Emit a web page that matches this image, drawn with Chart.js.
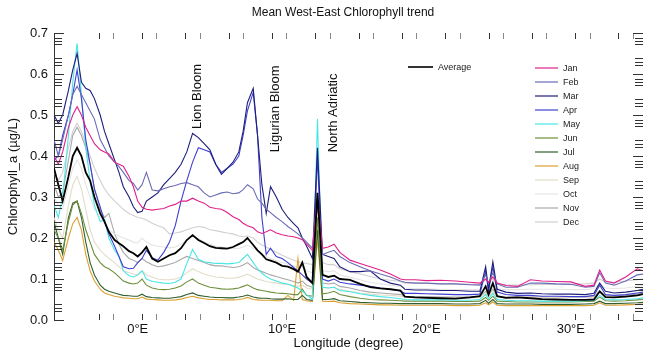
<!DOCTYPE html>
<html>
<head>
<meta charset="utf-8">
<script src="https://cdn.jsdelivr.net/npm/chart.js@4.4.1/dist/chart.umd.min.js"></script>
<style>
  body { margin: 0; background: #fff; }
  #wrap { width: 647px; height: 352px; }
</style>
</head>
<body>
<div id="wrap"><canvas id="chloroChart"></canvas></div>
<script>
// Longitude samples (degrees east)
const lon = [
  -5.8, -5.5, -5.2, -4.8, -4.5, -4.2, -3.9, -3.6, -3.3, -3, -2.6,
  -2.3, -2, -1.6, -1.3, -1, -0.6, -0.3, 0, 0.3, 0.6, 1,
  1.4, 1.8, 2.2, 2.6, 3, 3.4, 3.8, 4.2, 4.6, 5, 5.4,
  5.8, 6.2, 6.6, 7, 7.3, 7.6, 8, 8.3, 8.6, 8.9, 9.2,
  9.6, 10, 10.4, 10.8, 11.1, 11.4, 11.7, 12.1, 12.45, 12.8, 13.2,
  13.6, 14, 14.7, 15.4, 16.1, 16.8, 17.5, 18.2, 18.5, 19.2, 20,
  21, 22, 23, 23.7, 24.1, 24.3, 24.6, 24.9, 25.5, 26.3, 27.2,
  28, 29, 30, 31, 31.6, 32, 32.4, 33, 33.8, 34.6, 35
];

// Chlorophyll_a (ug/L) per series
const average = [
  0.37, 0.33, 0.29, 0.35, 0.40, 0.42, 0.40, 0.36, 0.34, 0.30, 0.26,
  0.24, 0.215, 0.195, 0.187, 0.18, 0.168, 0.163, 0.155, 0.165, 0.178, 0.15,
  0.142, 0.15, 0.158, 0.163, 0.175, 0.195, 0.207, 0.195, 0.188, 0.18, 0.176,
  0.175, 0.174, 0.178, 0.185, 0.19, 0.2, 0.183, 0.17, 0.16, 0.148, 0.145,
  0.14, 0.132, 0.13, 0.124, 0.118, 0.14, 0.105, 0.09, 0.31, 0.11, 0.105,
  0.108, 0.1, 0.098, 0.088, 0.08, 0.077, 0.075, 0.072, 0.057, 0.055, 0.054,
  0.053, 0.052, 0.055, 0.058, 0.082, 0.062, 0.09, 0.058, 0.054, 0.055, 0.053,
  0.051, 0.05, 0.049, 0.049, 0.05, 0.07, 0.056, 0.055, 0.057, 0.06, 0.063
];
const jan = [
  0.40, 0.38, 0.41, 0.47, 0.50, 0.52, 0.50, 0.47, 0.45, 0.43, 0.415,
  0.41, 0.405, 0.385, 0.38, 0.375, 0.35, 0.325, 0.29, 0.275, 0.27, 0.268,
  0.27, 0.272, 0.278, 0.282, 0.29, 0.29, 0.297, 0.29, 0.285, 0.275, 0.272,
  0.27, 0.262, 0.252, 0.245, 0.236, 0.23, 0.225, 0.215, 0.211, 0.215, 0.22,
  0.212, 0.208, 0.205, 0.203, 0.2, 0.196, 0.185, 0.17, 0.30, 0.175, 0.178,
  0.185, 0.165, 0.146, 0.138, 0.13, 0.122, 0.112, 0.1, 0.098, 0.098, 0.096,
  0.097, 0.095, 0.092, 0.09, 0.1, 0.092, 0.105, 0.09, 0.084, 0.082, 0.098,
  0.095, 0.094, 0.093, 0.082, 0.085, 0.122, 0.095, 0.09, 0.105, 0.125, 0.12
];
const feb = [
  0.44, 0.40, 0.44, 0.50, 0.55, 0.57, 0.55, 0.53, 0.51, 0.49, 0.44,
  0.42, 0.40, 0.385, 0.374, 0.36, 0.34, 0.333, 0.317, 0.33, 0.36, 0.317,
  0.315, 0.32, 0.325, 0.328, 0.333, 0.335, 0.33, 0.325, 0.31, 0.30, 0.305,
  0.31, 0.312, 0.308, 0.31, 0.318, 0.33, 0.32, 0.295, 0.285, 0.27, 0.262,
  0.25, 0.24, 0.228, 0.218, 0.21, 0.2, 0.19, 0.175, 0.30, 0.16, 0.165,
  0.17, 0.155, 0.14, 0.13, 0.12, 0.112, 0.105, 0.095, 0.092, 0.09, 0.09,
  0.088, 0.088, 0.086, 0.085, 0.11, 0.09, 0.115, 0.088, 0.08, 0.08, 0.09,
  0.09, 0.088, 0.087, 0.08, 0.082, 0.115, 0.09, 0.085, 0.095, 0.11, 0.112
];
const mar = [
  0.50, 0.48, 0.50, 0.56, 0.61, 0.65, 0.58, 0.565, 0.56, 0.54, 0.50,
  0.46, 0.43, 0.39, 0.36, 0.325, 0.30, 0.276, 0.262, 0.265, 0.29, 0.30,
  0.31, 0.33, 0.345, 0.36, 0.38, 0.41, 0.455, 0.445, 0.43, 0.415, 0.38,
  0.355, 0.37, 0.385, 0.41, 0.46, 0.53, 0.565, 0.45, 0.33, 0.26, 0.325,
  0.30, 0.27, 0.25, 0.235, 0.225, 0.2, 0.18, 0.15, 0.42, 0.16, 0.155,
  0.15, 0.13, 0.118, 0.118, 0.12, 0.1, 0.09, 0.085, 0.075, 0.073, 0.073,
  0.072, 0.072, 0.07, 0.07, 0.13, 0.075, 0.142, 0.075, 0.068, 0.065, 0.066,
  0.064, 0.063, 0.063, 0.062, 0.065, 0.09, 0.07, 0.066, 0.068, 0.072, 0.075
];
const apr = [
  0.39, 0.40, 0.45, 0.50, 0.55, 0.61, 0.54, 0.44, 0.38, 0.32, 0.276,
  0.24, 0.21, 0.18, 0.155, 0.13, 0.125, 0.126, 0.14, 0.15, 0.17, 0.152,
  0.146, 0.165, 0.19, 0.23, 0.29, 0.34, 0.385, 0.42, 0.415, 0.41, 0.38,
  0.36, 0.37, 0.38, 0.40, 0.45, 0.51, 0.555, 0.45, 0.25, 0.16, 0.175,
  0.155, 0.15, 0.14, 0.128, 0.12, 0.11, 0.1, 0.09, 0.40, 0.1, 0.095,
  0.1, 0.092, 0.088, 0.085, 0.082, 0.078, 0.075, 0.07, 0.065, 0.065, 0.064,
  0.063, 0.062, 0.062, 0.063, 0.12, 0.07, 0.13, 0.068, 0.062, 0.06, 0.06,
  0.058, 0.058, 0.057, 0.057, 0.06, 0.085, 0.062, 0.06, 0.062, 0.066, 0.068
];
const may = [
  0.28, 0.25, 0.30, 0.45, 0.58, 0.675, 0.55, 0.42, 0.34, 0.28, 0.24,
  0.245, 0.2, 0.17, 0.155, 0.12, 0.108, 0.105, 0.11, 0.12, 0.1, 0.094,
  0.092, 0.09, 0.089, 0.092, 0.1, 0.138, 0.172, 0.148, 0.142, 0.14, 0.138,
  0.138, 0.137, 0.138, 0.14, 0.15, 0.16, 0.14, 0.125, 0.114, 0.106, 0.1,
  0.095, 0.09, 0.088, 0.082, 0.078, 0.07, 0.062, 0.05, 0.49, 0.08, 0.078,
  0.08, 0.072, 0.069, 0.064, 0.06, 0.057, 0.055, 0.052, 0.05, 0.049, 0.049,
  0.049, 0.048, 0.048, 0.05, 0.062, 0.052, 0.065, 0.05, 0.048, 0.047, 0.047,
  0.046, 0.046, 0.046, 0.047, 0.048, 0.06, 0.05, 0.049, 0.05, 0.052, 0.054
];
const jun = [
  0.22, 0.2, 0.17, 0.24, 0.28, 0.29, 0.26, 0.22, 0.19, 0.16, 0.14,
  0.13, 0.125, 0.115, 0.105, 0.095, 0.09, 0.088, 0.09, 0.1, 0.085, 0.078,
  0.075, 0.074, 0.075, 0.078, 0.083, 0.093, 0.1, 0.09, 0.085, 0.08, 0.078,
  0.076, 0.075, 0.076, 0.078, 0.082, 0.086, 0.078, 0.074, 0.072, 0.07, 0.068,
  0.066, 0.065, 0.064, 0.062, 0.062, 0.075, 0.06, 0.058, 0.25, 0.064, 0.066,
  0.07, 0.062, 0.057, 0.053, 0.05, 0.049, 0.048, 0.047, 0.046, 0.046, 0.046,
  0.046, 0.045, 0.045, 0.046, 0.055, 0.048, 0.058, 0.046, 0.045, 0.044, 0.044,
  0.044, 0.044, 0.044, 0.045, 0.046, 0.056, 0.047, 0.046, 0.047, 0.049, 0.05
];
const jul = [
  0.24, 0.2, 0.16, 0.25, 0.285, 0.29, 0.25, 0.19, 0.14, 0.11, 0.085,
  0.075, 0.07, 0.066, 0.063, 0.06, 0.059, 0.058, 0.058, 0.063, 0.057, 0.055,
  0.054, 0.053, 0.053, 0.055, 0.057, 0.062, 0.066, 0.06, 0.058, 0.056, 0.055,
  0.055, 0.054, 0.054, 0.056, 0.058, 0.061, 0.056, 0.054, 0.053, 0.053, 0.052,
  0.051, 0.051, 0.052, 0.05, 0.05, 0.06, 0.05, 0.048, 0.22, 0.05, 0.05,
  0.052, 0.047, 0.045, 0.043, 0.042, 0.041, 0.041, 0.04, 0.04, 0.04, 0.04,
  0.04, 0.039, 0.039, 0.04, 0.048, 0.041, 0.05, 0.04, 0.039, 0.039, 0.039,
  0.038, 0.038, 0.038, 0.039, 0.04, 0.046, 0.04, 0.04, 0.041, 0.042, 0.043
];
const aug = [
  0.19, 0.17, 0.145, 0.2, 0.235, 0.25, 0.22, 0.16, 0.12, 0.095, 0.075,
  0.066, 0.062, 0.058, 0.056, 0.054, 0.053, 0.052, 0.052, 0.056, 0.051, 0.05,
  0.049, 0.048, 0.048, 0.049, 0.051, 0.055, 0.058, 0.054, 0.052, 0.05, 0.05,
  0.049, 0.049, 0.049, 0.05, 0.052, 0.055, 0.05, 0.049, 0.048, 0.048, 0.048,
  0.047, 0.047, 0.06, 0.048, 0.15, 0.05, 0.047, 0.045, 0.2, 0.046, 0.045,
  0.046, 0.042, 0.04, 0.039, 0.038, 0.037, 0.037, 0.036, 0.036, 0.036, 0.036,
  0.036, 0.035, 0.035, 0.036, 0.042, 0.037, 0.044, 0.036, 0.035, 0.035, 0.035,
  0.035, 0.035, 0.035, 0.035, 0.036, 0.042, 0.036, 0.036, 0.037, 0.038, 0.039
];
const sep = [
  0.25, 0.22, 0.2, 0.28, 0.33, 0.35, 0.32, 0.27, 0.22, 0.19, 0.17,
  0.16, 0.15, 0.14, 0.13, 0.12, 0.115, 0.112, 0.11, 0.12, 0.11, 0.105,
  0.1, 0.098, 0.098, 0.1, 0.105, 0.115, 0.125, 0.118, 0.112, 0.108, 0.105,
  0.104, 0.102, 0.102, 0.104, 0.108, 0.112, 0.105, 0.1, 0.097, 0.094, 0.092,
  0.09, 0.088, 0.086, 0.084, 0.082, 0.085, 0.078, 0.075, 0.24, 0.08, 0.078,
  0.08, 0.074, 0.07, 0.066, 0.063, 0.061, 0.06, 0.058, 0.056, 0.056, 0.055,
  0.055, 0.054, 0.054, 0.055, 0.065, 0.057, 0.068, 0.056, 0.055, 0.054, 0.055,
  0.055, 0.055, 0.055, 0.055, 0.056, 0.066, 0.058, 0.057, 0.058, 0.06, 0.062
];
const oct = [
  0.3, 0.28, 0.27, 0.33, 0.37, 0.39, 0.37, 0.33, 0.3, 0.27, 0.25,
  0.235, 0.22, 0.21, 0.205, 0.2, 0.195, 0.19, 0.188, 0.2, 0.19, 0.183,
  0.18, 0.178, 0.176, 0.178, 0.185, 0.195, 0.205, 0.198, 0.19, 0.185, 0.18,
  0.178, 0.175, 0.174, 0.175, 0.178, 0.182, 0.175, 0.168, 0.16, 0.155, 0.15,
  0.145, 0.14, 0.136, 0.132, 0.128, 0.13, 0.12, 0.115, 0.26, 0.12, 0.118,
  0.12, 0.11, 0.104, 0.098, 0.092, 0.088, 0.085, 0.082, 0.078, 0.077, 0.076,
  0.075, 0.074, 0.074, 0.075, 0.085, 0.077, 0.088, 0.076, 0.074, 0.074, 0.075,
  0.075, 0.075, 0.074, 0.074, 0.076, 0.088, 0.078, 0.077, 0.078, 0.082, 0.085
];
const nov = [
  0.33, 0.3, 0.31, 0.39, 0.45, 0.47, 0.45, 0.42, 0.38, 0.32, 0.27,
  0.25, 0.26, 0.21, 0.185, 0.165, 0.15, 0.146, 0.14, 0.15, 0.142, 0.135,
  0.13, 0.132, 0.136, 0.14, 0.148, 0.155, 0.15, 0.145, 0.14, 0.135, 0.132,
  0.132, 0.13, 0.128, 0.13, 0.134, 0.14, 0.128, 0.122, 0.118, 0.114, 0.11,
  0.106, 0.102, 0.098, 0.094, 0.09, 0.095, 0.085, 0.08, 0.28, 0.09, 0.088,
  0.09, 0.082, 0.078, 0.072, 0.068, 0.066, 0.064, 0.062, 0.058, 0.057, 0.057,
  0.056, 0.056, 0.056, 0.057, 0.07, 0.06, 0.075, 0.058, 0.056, 0.056, 0.056,
  0.056, 0.055, 0.055, 0.056, 0.057, 0.07, 0.06, 0.058, 0.06, 0.063, 0.066
];
const dec = [
  0.36, 0.34, 0.36, 0.42, 0.46, 0.48, 0.46, 0.43, 0.4, 0.37, 0.34,
  0.32, 0.305, 0.29, 0.28, 0.27, 0.26, 0.255, 0.25, 0.248, 0.244, 0.236,
  0.23, 0.225, 0.21, 0.212, 0.215, 0.22, 0.225, 0.228, 0.226, 0.22, 0.218,
  0.215, 0.212, 0.21, 0.205, 0.203, 0.205, 0.2, 0.19, 0.183, 0.178, 0.172,
  0.165, 0.158, 0.152, 0.146, 0.142, 0.14, 0.138, 0.135, 0.26, 0.14, 0.135,
  0.135, 0.125, 0.118, 0.112, 0.106, 0.1, 0.097, 0.094, 0.09, 0.09, 0.089,
  0.088, 0.088, 0.087, 0.087, 0.098, 0.09, 0.1, 0.088, 0.086, 0.085, 0.086,
  0.087, 0.087, 0.087, 0.088, 0.09, 0.1, 0.092, 0.092, 0.095, 0.098, 0.1
];

const seriesNames = ['Average', 'Jan', 'Feb', 'Mar', 'Apr', 'May', 'Jun', 'Jul', 'Aug', 'Sep', 'Oct', 'Nov', 'Dec'];
const seriesValues = [average, jan, feb, mar, apr, may, jun, jul, aug, sep, oct, nov, dec];

// Axis ticks
const xLabelLons = [0, 10, 20, 30];
const yLabelVals = [0, 0.1, 0.2, 0.3, 0.4, 0.5, 0.6, 0.7];

// Styles
const lineColors = ['#000000', '#e0208a', '#6b6bb5', '#1e1e7a', '#3f3fd0', '#4ae6e6', '#6f8f3c',
                    '#2f5f2f', '#dba032', '#e2dcc8', '#e4e4e4', '#a9a9a9', '#d0d0d0'];
const FONT = '"Liberation Sans", Arial, Helvetica, sans-serif';

const annotations = [
    { text: 'Lion Bloom', lon: 4.16, val: 0.545 },
    { text: 'Ligurian Bloom', lon: 9.53, val: 0.515 },
    { text: 'North Adriatic', lon: 13.55, val: 0.505 }
];

// Extra decoration: inward ticks, title, rotated labels and the legend
const decorPlugin = {
    id: 'decor',
    afterDraw(chart) {
        const { ctx, chartArea, scales } = chart;
        const { left, right, top, bottom } = chartArea;
        const x = scales.x, y = scales.y;
        ctx.save();

        // inward ticks along top and bottom
        ctx.lineWidth = 1;
        for (let v = -2.7; v <= 35; v += 3) {
            [v, v + 1].forEach((t, i) => {
                if (t > 35) return;
                const px = Math.round(x.getPixelForValue(t)) + 0.5;
                ctx.strokeStyle = i === 0 ? '#333' : '#888';
                ctx.beginPath();
                ctx.moveTo(px, top); ctx.lineTo(px, top + 6);
                ctx.moveTo(px, bottom); ctx.lineTo(px, bottom - 6);
                ctx.stroke();
            });
        }

        // inward ticks on left and right
        ctx.strokeStyle = '#333';
        yLabelVals.forEach(v => {
            const offs = [0, -0.012, -0.02, -0.028, -0.062, -0.07, -0.078];
            offs.forEach((d, i) => {
                const val = v + d;
                if (val < 0) return;
                const py = Math.round(y.getPixelForValue(val)) + 0.5;
                const len = i === 0 ? 10 : 8;
                ctx.beginPath();
                ctx.moveTo(left, py); ctx.lineTo(left + len, py);
                ctx.moveTo(right, py); ctx.lineTo(right - len, py);
                ctx.stroke();
            });
        });

        // title
        ctx.fillStyle = '#111';
        ctx.font = '12px ' + FONT;
        ctx.textAlign = 'center';
        ctx.textBaseline = 'middle';
        ctx.fillText('Mean West-East Chlorophyll trend', 343, 13);

        // rotated annotations
        ctx.font = '13px ' + FONT;
        annotations.forEach(a => {
            ctx.save();
            ctx.translate(x.getPixelForValue(a.lon), y.getPixelForValue(a.val));
            ctx.rotate(-Math.PI / 2);
            ctx.fillText(a.text, 0, 0);
            ctx.restore();
        });

        // legend
        ctx.font = '9px ' + FONT;
        ctx.textAlign = 'left';
        chart.data.datasets.forEach((ds, i) => {
            let lx, ly, len;
            if (i === 0) { lx = 408; ly = 67; len = 25; }
            else { lx = 535; ly = 68 + (i - 1) * 14.0; len = 23; }
            ctx.strokeStyle = ds.borderColor;
            ctx.lineWidth = i === 0 ? 1.6 : 1.2;
            ctx.beginPath();
            ctx.moveTo(lx, ly); ctx.lineTo(lx + len, ly);
            ctx.stroke();
            ctx.fillStyle = '#222';
            ctx.fillText(ds.label, lx + len + 5, ly + 0.5);
        });

        ctx.restore();
    }
};

const ctx = document.getElementById('chloroChart').getContext('2d');

const datasets = seriesNames.map((name, i) => ({
    label: name,
    data: lon.map((x, j) => ({ x: x, y: seriesValues[i][j] })),
    borderColor: lineColors[i],
    borderWidth: i === 0 ? 1.8 : 1.1,
    pointRadius: 0,
    tension: 0,
    fill: false
}));

new Chart(ctx, {
    type: 'line',
    data: { datasets: datasets },
    options: {
        responsive: true,
        maintainAspectRatio: false,
        animation: false,
        devicePixelRatio: 1,
        layout: { padding: { top: 33, right: 4, left: 0, bottom: 0 } },
        plugins: {
            legend: { display: false },
            title: { display: false },
            tooltip: { enabled: false }
        },
        scales: {
            x: {
                type: 'linear',
                min: -5.8,
                max: 35,
                grid: { display: false, drawTicks: false },
                border: { display: false },
                afterBuildTicks: s => { s.ticks = xLabelLons.map(v => ({ value: v })); },
                afterFit: s => { s.height = 32; },
                ticks: {
                    autoSkip: false,
                    maxRotation: 0,
                    padding: 2,
                    color: '#111',
                    font: { family: FONT, size: 13 },
                    callback: v => v + '°E'
                },
                title: {
                    display: true,
                    text: 'Longitude (degree)',
                    color: '#111',
                    font: { family: FONT, size: 13 },
                    padding: { top: 0, bottom: 1 }
                }
            },
            y: {
                min: 0,
                max: 0.7,
                grid: { display: false, drawTicks: false },
                border: { display: true, color: '#333', width: 1 },
                afterBuildTicks: s => { s.ticks = yLabelVals.map(v => ({ value: v })); },
                afterFit: s => { s.width = 54; },
                ticks: {
                    padding: 6,
                    color: '#111',
                    font: { family: FONT, size: 13 },
                    callback: v => Number(v).toFixed(1)
                },
                title: {
                    display: true,
                    text: 'Chlorophyll_a (µg/L)',
                    color: '#111',
                    font: { family: FONT, size: 13 },
                    padding: { top: 6, bottom: 0 }
                }
            }
        }
    },
    plugins: [decorPlugin]
});
</script>
</body>
</html>
